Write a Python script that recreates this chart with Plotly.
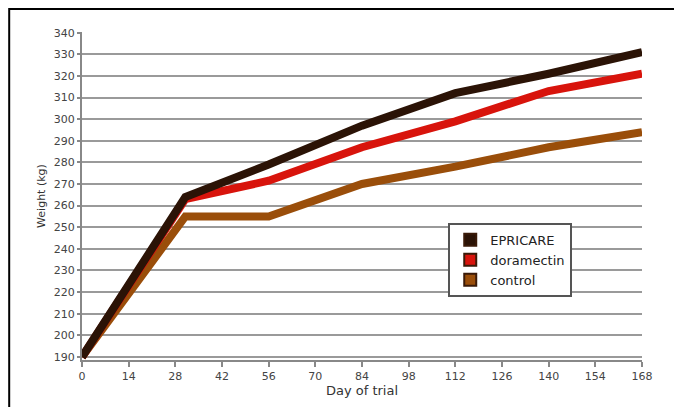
import plotly.graph_objects as go

days = [0, 31, 56, 84, 112, 140, 168]
epricare = [190, 264, 279, 297, 312, 321, 331]
doramectin = [190, 263, 271.5, 287, 299, 313, 321]
control = [190, 255, 255, 270, 278, 287, 294]

series_names = ["EPRICARE", "doramectin", "control"]
series_values = [epricare, doramectin, control]
colors = ["#2b1306", "#d8140c", "#9a4e0a"]

x_ticks = list(range(0, 169, 14))
y_ticks = list(range(190, 341, 10))

fig = go.Figure()
# draw control first so darker lines overlay
for name, vals, col in reversed(list(zip(series_names, series_values, colors))):
    fig.add_trace(go.Scatter(x=days, y=vals, mode="lines", name=name,
                             line=dict(color=col, width=8), showlegend=False))
for name, col in zip(series_names, colors):
    fig.add_trace(go.Scatter(x=[None], y=[None], mode="markers", name=name,
                             marker=dict(symbol="square", size=10, color=col,
                                         line=dict(color="#3a1a08", width=1))))

fig.update_layout(
    width=674, height=399,
    margin=dict(l=74, r=40, t=24, b=47),
    paper_bgcolor="white", plot_bgcolor="white",
    font=dict(family="DejaVu Sans", size=11, color="#333333"),
    legend=dict(x=0.654, y=0.418, xanchor="left", yanchor="top",
                bgcolor="white", bordercolor="#555555", borderwidth=2,
                font=dict(size=13, color="#222222"),
                tracegroupgap=0, itemsizing="constant", itemwidth=30),
    xaxis=dict(range=[0, 168], tickvals=x_ticks, ticktext=[str(v) for v in x_ticks],
               showgrid=False, zeroline=False, showline=True, linecolor="#888888",
               linewidth=2, ticks="outside", ticklen=5, tickwidth=2, tickcolor="#888888",
               title=dict(text="Day of trial", font=dict(size=13, color="#333333"), standoff=1),
               tickfont=dict(size=11, color="#444444")),
    yaxis=dict(range=[188.6, 340.3], tickvals=y_ticks, ticktext=[str(v) for v in y_ticks],
               showgrid=True, gridcolor="#9a9a9a", gridwidth=2, zeroline=False,
               showline=True, linecolor="#888888", linewidth=2,
               ticks="outside", ticklen=3, tickwidth=2, tickcolor="#888888",
               title=dict(text="Weight (kg)", font=dict(size=11, color="#333333"), standoff=6),
               tickfont=dict(size=11, color="#444444")),
    shapes=[dict(type="rect", xref="paper", yref="paper",
                 x0=-0.130, x1=1.09, y0=-0.16, y1=1.070,
                 line=dict(color="black", width=2), fillcolor="rgba(0,0,0,0)",
                 layer="below")],
)

fig.write_html("out.html")
